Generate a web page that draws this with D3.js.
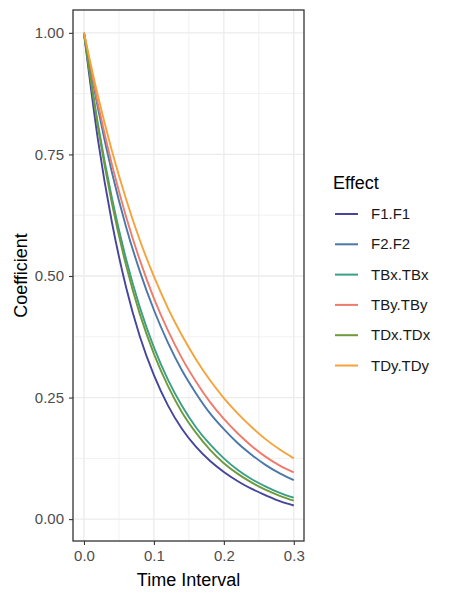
<!DOCTYPE html>
<html>
<head>
<meta charset="utf-8">
<script src="https://cdn.jsdelivr.net/npm/d3@7"></script>
<style>
  body { margin: 0; background: #fff; }
  svg { font-family: "Liberation Sans", Arial, sans-serif; }
</style>
</head>
<body>
<script>
// values
let times = [0, 0.02, 0.04, 0.06, 0.08, 0.10, 0.12, 0.14, 0.16, 0.18, 0.20, 0.22, 0.24, 0.26, 0.28, 0.30];
let f1f1 = [1.000, 0.780, 0.610, 0.478, 0.375, 0.296, 0.234, 0.186, 0.149, 0.120, 0.097, 0.078, 0.062, 0.049, 0.037, 0.028];
let f2f2 = [1.000, 0.845, 0.713, 0.602, 0.509, 0.430, 0.363, 0.306, 0.259, 0.218, 0.185, 0.156, 0.132, 0.111, 0.094, 0.080];
let tbxtbx = [1.000, 0.812, 0.660, 0.536, 0.435, 0.353, 0.287, 0.233, 0.189, 0.154, 0.125, 0.101, 0.082, 0.067, 0.054, 0.044];
let tbytby = [1.000, 0.854, 0.729, 0.623, 0.532, 0.454, 0.388, 0.331, 0.283, 0.241, 0.206, 0.176, 0.150, 0.128, 0.110, 0.096];
let tdxtdx = [1.000, 0.806, 0.649, 0.523, 0.421, 0.340, 0.274, 0.220, 0.178, 0.143, 0.115, 0.093, 0.075, 0.060, 0.048, 0.038];
let tdytdy = [1.000, 0.870, 0.757, 0.659, 0.573, 0.499, 0.434, 0.378, 0.329, 0.286, 0.249, 0.217, 0.189, 0.164, 0.143, 0.125];

let effects = ["F1.F1", "F2.F2", "TBx.TBx", "TBy.TBy", "TDx.TDx", "TDy.TDy"];
let colors = ["#45459c", "#4a78a8", "#3a9f85", "#ee7b6c", "#6e9a3c", "#f5a33a"];
let xTicks = [0, 0.1, 0.2, 0.3];
let yTicks = [0, 0.25, 0.5, 0.75, 1];
let xMinor = [0.05, 0.15, 0.25];
let yMinor = [0.125, 0.375, 0.625, 0.875];

let seriesValues = [f1f1, f2f2, tbxtbx, tbytby, tdxtdx, tdytdy];
let series = effects.map((name, i) => ({
    name: name,
    color: colors[i],
    points: times.map((t, j) => ({x: t, y: seriesValues[i][j]}))
}));

let W = 450, H = 600;
let panel = {left: 73, right: 304, top: 10, bottom: 541};

let svg = d3.select('body').append('svg')
    .attr('width', W).attr('height', H);

let x = d3.scaleLinear().domain([-0.0157, 0.3146]).range([panel.left, panel.right]);
let y = d3.scaleLinear().domain([-0.045, 1.047]).range([panel.bottom, panel.top]);

// grid
let grid = svg.append('g');
grid.selectAll('.xminor').data(xMinor).enter().append('line')
    .attr('x1', d => x(d)).attr('x2', d => x(d))
    .attr('y1', panel.top).attr('y2', panel.bottom)
    .attr('stroke', '#ebebeb').attr('stroke-width', 0.7);
grid.selectAll('.yminor').data(yMinor).enter().append('line')
    .attr('y1', d => y(d)).attr('y2', d => y(d))
    .attr('x1', panel.left).attr('x2', panel.right)
    .attr('stroke', '#ebebeb').attr('stroke-width', 0.7);
grid.selectAll('.xmajor').data(xTicks).enter().append('line')
    .attr('x1', d => x(d)).attr('x2', d => x(d))
    .attr('y1', panel.top).attr('y2', panel.bottom)
    .attr('stroke', '#ebebeb').attr('stroke-width', 1.3);
grid.selectAll('.ymajor').data(yTicks).enter().append('line')
    .attr('y1', d => y(d)).attr('y2', d => y(d))
    .attr('x1', panel.left).attr('x2', panel.right)
    .attr('stroke', '#ebebeb').attr('stroke-width', 1.3);

// lines
let line = d3.line()
    .x(d => x(d.x))
    .y(d => y(d.y))
    .curve(d3.curveMonotoneX);

svg.append('g').selectAll('path').data(series).enter().append('path')
    .attr('d', d => line(d.points))
    .attr('fill', 'none')
    .attr('stroke', d => d.color)
    .attr('stroke-width', 1.9);

// panel border
svg.append('rect')
    .attr('x', panel.left).attr('y', panel.top)
    .attr('width', panel.right - panel.left)
    .attr('height', panel.bottom - panel.top)
    .attr('fill', 'none').attr('stroke', '#333333').attr('stroke-width', 1.3);

// axes
let xAxis = svg.append('g')
    .attr('transform', `translate(0,${panel.bottom})`)
    .call(d3.axisBottom(x).tickValues(xTicks).tickFormat(d3.format('.1f')).tickSize(4).tickPadding(5));
let yAxis = svg.append('g')
    .attr('transform', `translate(${panel.left},0)`)
    .call(d3.axisLeft(y).tickValues(yTicks).tickFormat(d3.format('.2f')).tickSize(4).tickPadding(5));

[xAxis, yAxis].forEach(a => {
    a.select('.domain').remove();
    a.selectAll('.tick line').attr('stroke', '#333333').attr('stroke-width', 1.1);
    a.selectAll('.tick text').attr('fill', '#4d4d4d')
        .style('font-size', '15px').style('font-family', '"Liberation Sans", Arial, sans-serif');
});

// axis titles
svg.append('text')
    .attr('x', (panel.left + panel.right) / 2).attr('y', 586)
    .attr('text-anchor', 'middle')
    .style('font-size', '18px')
    .text('Time Interval');

svg.append('text')
    .attr('transform', `translate(27,${(panel.top + panel.bottom) / 2}) rotate(-90)`)
    .attr('text-anchor', 'middle')
    .style('font-size', '18px')
    .text('Coefficient');

// legend
let legend = svg.append('g');
legend.append('text')
    .attr('x', 333).attr('y', 189)
    .style('font-size', '18px')
    .text('Effect');

let keys = legend.selectAll('.key').data(series).enter().append('g')
    .attr('transform', (d, i) => `translate(0,${214 + i * 30.3})`);
keys.append('line')
    .attr('x1', 335).attr('x2', 358)
    .attr('y1', 0).attr('y2', 0)
    .attr('stroke', d => d.color).attr('stroke-width', 2);
keys.append('text')
    .attr('x', 371).attr('y', 5)
    .style('font-size', '15px')
    .attr('fill', '#1a1a1a')
    .text(d => d.name);
</script>
</body>
</html>
